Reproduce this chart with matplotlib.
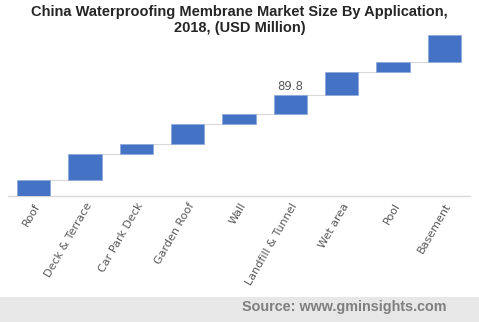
import matplotlib
matplotlib.use("Agg")
import matplotlib.pyplot as plt
from matplotlib.patches import Rectangle
import numpy as np

# waterfall data (USD Million)
categories = ["Roof", "Deck & Terrace", "Car Park Deck", "Garden Roof", "Wall",
              "Landfill & Tunnel", "Wet area", "Pool", "Basement"]
values = [70, 118, 50, 88, 45, 89.8, 105, 42, 125]
labelled = "Landfill & Tunnel"

vals = np.array(values, dtype=float)
tops = np.cumsum(vals)
bottoms = tops - vals
x = np.arange(len(categories))

fig = plt.figure(figsize=(4.79, 3.22), dpi=100)
ax = fig.add_axes([8 / 479, 1 - 195.7 / 322, 462 / 479, (195.7 - 35) / 322])

bar_w = 0.65
ax.bar(x, vals, bottom=bottoms, width=bar_w, color="#4472C4",
       edgecolor="#8eaadb", linewidth=0.6, zorder=3)

# connector lines between bars
for i in range(len(x) - 1):
    ax.plot([x[i] + bar_w / 2, x[i + 1] - bar_w / 2], [tops[i], tops[i]],
            color="#d9d9d9", linewidth=0.8, zorder=2)

i_lab = categories.index(labelled)
ax.text(x[i_lab], tops[i_lab] + 8, f"{values[i_lab]:.1f}", ha="center", va="bottom",
        fontsize=8.5, color="#595959")

ax.set_xlim(-0.5, len(x) - 0.5)
ax.set_ylim(0, tops[-1])
ax.set_yticks([])
ax.set_xticks(x)
ax.set_xticklabels(categories, rotation=60, ha="right", rotation_mode="anchor",
                   fontsize=8, color="#595959")
ax.tick_params(axis="x", length=0, pad=4)
for s in ["top", "right", "left"]:
    ax.spines[s].set_visible(False)
ax.spines["bottom"].set_color("#d9d9d9")
ax.spines["bottom"].set_linewidth(1)

fig.text(0.5, 1 - 20 / 322, "China Waterproofing Membrane Market Size By Application,\n2018, (USD Million)",
         ha="center", va="center", fontsize=10.5, fontweight="bold", color="#262626",
         family="Liberation Sans", linespacing=1.1)

# footer band
fig.patches.append(Rectangle((0, 0), 1, 25.5 / 322, transform=fig.transFigure,
                             facecolor="#e7e7e7", edgecolor="none", zorder=0))
fig.text(447 / 479, 15 / 322, "Source: www.gminsights.com", ha="right", va="center",
         fontsize=10.4, fontweight="bold", color="#7f7f7f", family="Liberation Sans")

fig.savefig("out.png", dpi=100)
